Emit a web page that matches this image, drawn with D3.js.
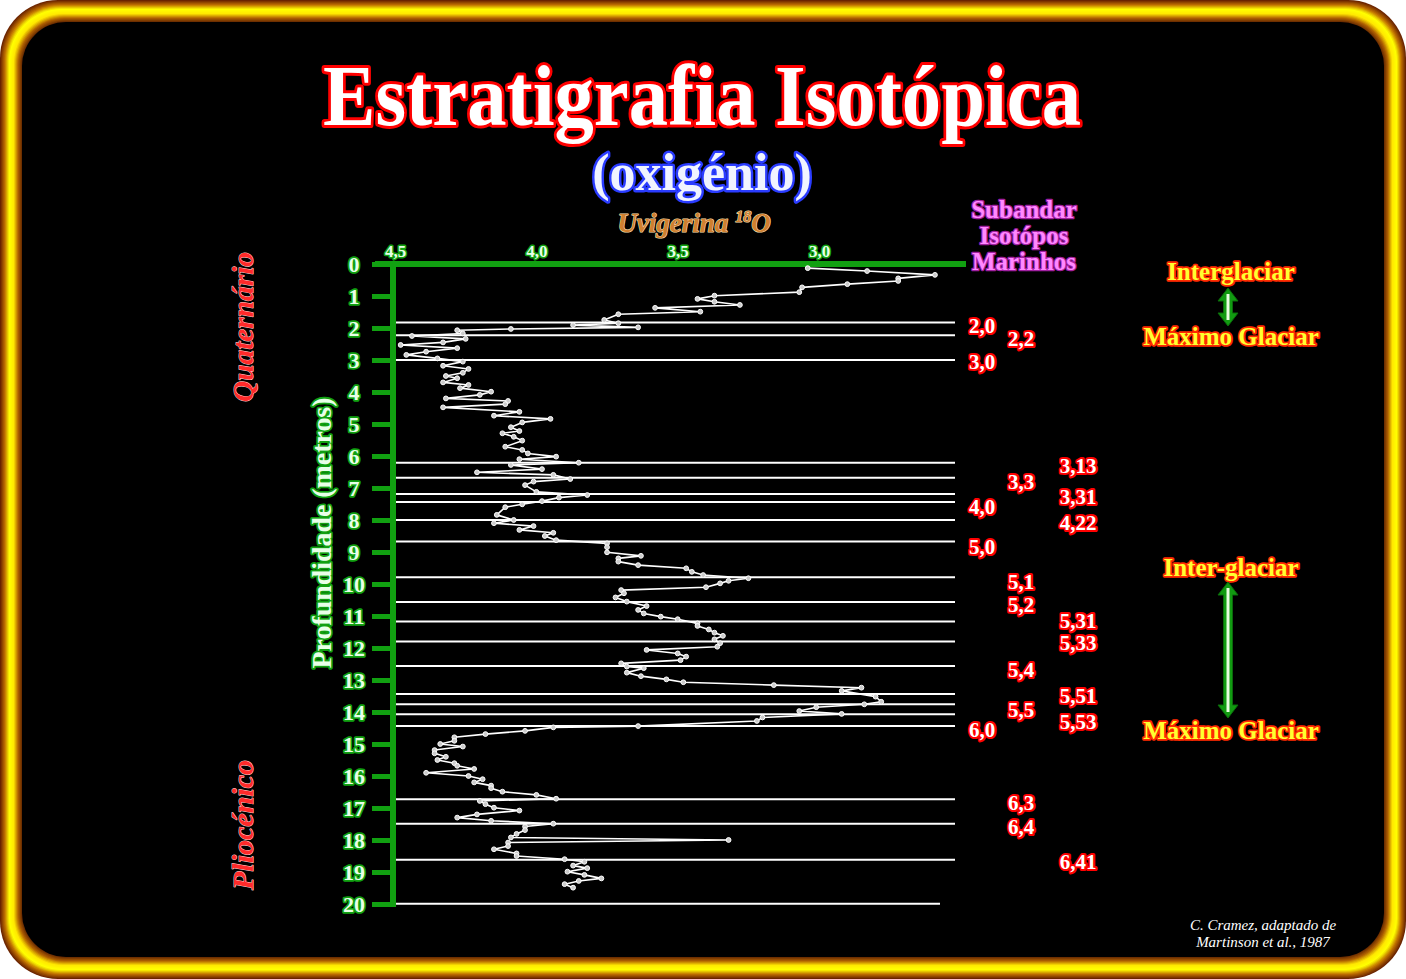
<!DOCTYPE html>
<html><head><meta charset="utf-8">
<script src="https://cdn.jsdelivr.net/npm/d3@7"></script>
<style>html,body{margin:0;padding:0;background:#fff;}svg{display:block;}</style>
</head><body>
<script>
// ---- data ----
const depthTicks = d3.range(0, 21);
const xTickValues = [4.5, 4.0, 3.5, 3.0];
const depths = [0.13,0.22,0.34,0.45,0.53,0.63,0.73,0.88,0.99,1.09,1.18,1.28,1.37,1.49,1.57,1.75,1.85,1.91,1.98,2.03,2.07,2.17,2.25,2.34,2.45,2.53,2.63,2.74,2.84,2.95,3.05,3.18,3.28,3.40,3.50,3.57,3.70,3.78,3.88,3.99,4.09,4.20,4.28,4.38,4.48,4.62,4.74,4.84,4.95,5.10,5.22,5.29,5.40,5.52,5.71,5.81,5.92,6.02,6.10,6.21,6.28,6.41,6.51,6.59,6.72,6.80,6.91,7.12,7.22,7.30,7.41,7.51,7.60,7.84,8.00,8.10,8.19,8.31,8.40,8.50,8.63,8.73,8.85,9.01,9.12,9.20,9.30,9.41,9.51,9.62,9.72,9.82,9.90,9.98,10.10,10.19,10.29,10.42,10.55,10.69,10.81,10.92,11.02,11.10,11.23,11.31,11.42,11.52,11.62,11.73,11.85,11.96,12.06,12.17,12.27,12.38,12.48,12.58,12.63,12.77,12.88,12.98,13.07,13.16,13.24,13.34,13.52,13.68,13.76,13.85,13.97,14.06,14.17,14.28,14.44,14.48,14.59,14.69,14.79,14.90,15.00,15.08,15.19,15.29,15.40,15.50,15.60,15.68,15.78,15.90,16.00,16.10,16.20,16.30,16.38,16.49,16.59,16.71,16.78,16.88,16.99,17.08,17.20,17.30,17.40,17.49,17.58,17.69,17.81,17.92,18.00,18.08,18.19,18.29,18.42,18.50,18.60,18.68,18.80,18.88,18.99,19.09,19.20,19.28,19.38,19.49];
const d18O = [3.04,2.83,2.59,2.72,2.72,2.90,3.06,3.07,3.37,3.43,3.37,3.28,3.58,3.42,3.71,3.76,3.71,3.87,3.64,4.09,4.28,4.26,4.44,4.25,4.33,4.48,4.28,4.39,4.46,4.35,4.26,4.33,4.24,4.26,4.32,4.28,4.33,4.24,4.27,4.16,4.20,4.32,4.10,4.11,4.33,4.06,4.15,3.95,4.05,4.09,4.06,4.12,4.08,4.05,4.11,4.05,4.03,3.93,4.06,3.85,4.09,3.98,4.21,3.94,3.88,4.01,4.04,4.00,3.82,3.92,3.98,4.05,4.11,4.14,4.08,4.15,4.01,4.06,3.94,3.97,3.93,3.75,3.75,3.75,3.63,3.71,3.71,3.64,3.47,3.45,3.41,3.25,3.32,3.35,3.40,3.70,3.69,3.72,3.68,3.61,3.64,3.62,3.56,3.50,3.43,3.43,3.39,3.37,3.34,3.37,3.35,3.36,3.61,3.50,3.47,3.49,3.70,3.68,3.62,3.68,3.63,3.54,3.48,3.16,2.85,2.92,2.80,2.78,2.84,3.01,3.07,2.92,3.20,3.22,3.64,3.94,4.04,4.18,4.29,4.29,4.34,4.26,4.36,4.36,4.32,4.35,4.29,4.28,4.22,4.39,4.24,4.19,4.22,4.16,4.16,4.12,4.00,3.93,4.20,4.18,4.15,4.06,4.21,4.28,4.16,3.94,4.04,4.04,4.07,4.09,3.32,4.10,4.10,4.15,4.07,4.07,3.90,3.83,3.87,3.82,3.89,3.83,3.77,3.85,3.90,3.87];
const boundaryDepths = [1.83,2.23,3.0,6.21,6.68,7.19,7.44,8.0,8.67,9.79,10.56,11.17,11.80,12.56,13.44,13.76,14.07,14.44,16.73,17.49,18.62,19.99];
const stageLabels = ["2,0","2,2","3,0","3,13","3,3","3,31","4,0","4,22","5,0","5,1","5,2","5,31","5,33","5,4","5,51","5,5","5,53","6,0","6,3","6,4","6,41"];
const stageLabelDepths = [1.95,2.35,3.05,6.3,6.82,7.27,7.6,8.1,8.85,9.95,10.65,11.15,11.85,12.7,13.5,13.95,14.3,14.55,16.85,17.6,18.7];
const stageLabelCol = [0,1,0,2,1,2,0,2,0,1,1,2,2,1,2,1,2,0,1,1,2];

const W = 1406, H = 979;
const svg = d3.select("body").append("svg").attr("width", W).attr("height", H);

// ---- frame ----
const band = 22;
const bandColor = d3.scaleLinear().domain([0, 0.2, 0.4, 0.6, 0.8, 1])
  .range(["#6a2400", "#c07000", "#ffff00", "#ffe800", "#b06000", "#5a2000"]);
for (let i = 0; i <= band; i++) {
  svg.append("rect").attr("x", i).attr("y", i).attr("width", W - 2 * i).attr("height", H - 2 * i)
    .attr("rx", 58 - i * 0.6).attr("fill", bandColor(i / band));
}
svg.append("rect").attr("x", band).attr("y", band).attr("width", W - 2 * band).attr("height", H - 2 * band)
  .attr("rx", 44).attr("fill", "#000");

const serif = "'Liberation Serif', 'Times New Roman', serif";

function glowText(g, txt, o) {
  const t = g.append("text").text(txt)
    .attr("x", o.x).attr("y", o.y)
    .attr("text-anchor", o.anchor || "middle")
    .attr("font-family", serif).attr("font-weight", "bold")
    .attr("font-style", o.italic ? "italic" : "normal")
    .attr("font-size", o.size)
    .attr("fill", o.fill).attr("stroke", o.stroke).attr("stroke-width", o.sw)
    .attr("stroke-linejoin", "round").attr("paint-order", "stroke");
  if (o.tl) t.attr("textLength", o.tl).attr("lengthAdjust", "spacingAndGlyphs");
  if (o.rotate) t.attr("transform", `rotate(${o.rotate},${o.x},${o.y})`);
  return t;
}

// ---- title ----
glowText(svg, "Estratigrafia Isotópica", {x: 702, y: 125, size: 86, fill: "#fff", stroke: "#ff0000", sw: 6, tl: 758});
glowText(svg, "(oxigénio)", {x: 702, y: 190, size: 52, fill: "#f0f4ff", stroke: "#2a3cff", sw: 5});
const uv = glowText(svg, "Uvigerina ", {x: 694, y: 232, size: 27, fill: "#d08030", stroke: "#ffe0b0", sw: 1.2, italic: true});
uv.append("tspan").text("18").attr("font-size", 16).attr("dy", -10);
uv.append("tspan").text("O").attr("dy", 10);

// ---- scales ----
const x = d3.scaleLinear().domain([4.5, 2.5]).range([395, 960.4]);
const y = d3.scaleLinear().domain([0, 20]).range([264, 904]);

const green = "#11a011";
const lightGreen = "#e8ffe8";

// boundary lines
svg.append("g").selectAll("line").data(boundaryDepths).join("line")
  .attr("x1", 396).attr("x2", (d, i) => i === boundaryDepths.length - 1 ? 940 : 955)
  .attr("y1", d => y(d)).attr("y2", d => y(d))
  .attr("stroke", "#fff").attr("stroke-width", 2);

// left axis
const yAxis = d3.axisLeft(y).tickValues(depthTicks).tickSize(21).tickFormat(d3.format("d"));
const ga = svg.append("g").attr("transform", "translate(393,0)").call(yAxis);
ga.select(".domain").attr("stroke", green).attr("stroke-width", 6).attr("d", `M0,${y(0) - 3}V${y(20) + 3}`);
ga.selectAll(".tick line").attr("stroke", green).attr("stroke-width", 5);
ga.selectAll(".tick text").attr("font-family", serif).attr("font-weight", "bold").attr("font-size", 22)
  .attr("fill", lightGreen).attr("stroke", green).attr("stroke-width", 3.5).attr("paint-order", "stroke")
  .attr("stroke-linejoin", "round").attr("x", -39).attr("text-anchor", "middle").attr("dy", "0.35em");

// top axis
svg.append("line").attr("x1", 375).attr("x2", 966).attr("y1", y(0)).attr("y2", y(0))
  .attr("stroke", green).attr("stroke-width", 6);
const xAxis = d3.axisTop(x).tickValues(xTickValues).tickSize(0).tickPadding(4).tickFormat(d => d3.format(".1f")(d).replace(".", ","));
const gx = svg.append("g").attr("transform", `translate(0,${y(0) - 3})`).call(xAxis);
gx.select(".domain").remove();
gx.selectAll(".tick text").attr("font-family", serif).attr("font-weight", "bold").attr("font-size", 17)
  .attr("fill", lightGreen).attr("stroke", green).attr("stroke-width", 3).attr("paint-order", "stroke")
  .attr("stroke-linejoin", "round");

// curve
const pts = depths.map((d, i) => ({d, v: d18O[i]}));
svg.append("path").datum(pts)
  .attr("d", d3.line().x(p => x(p.v)).y(p => y(p.d)))
  .attr("fill", "none").attr("stroke", "#fff").attr("stroke-width", 1.6).attr("stroke-linejoin", "round");
svg.append("g").selectAll("circle").data(pts).join("circle")
  .attr("cx", p => x(p.v)).attr("cy", p => y(p.d)).attr("r", 2.4)
  .attr("fill", "#ccc").attr("stroke", "#fff").attr("stroke-width", 1);

// axis title
glowText(svg, "Profundidade (metros)", {x: 331, y: 533, size: 27, fill: lightGreen, stroke: green, sw: 3.5, rotate: -90, tl: 271});

// epochs
glowText(svg, "Quaternário", {x: 253, y: 327, size: 30, fill: "#ff2a2a", stroke: "#ffd0d0", sw: 1, italic: true, rotate: -90, tl: 150});
glowText(svg, "Pliocénico", {x: 253, y: 825, size: 30, fill: "#ff2a2a", stroke: "#ffd0d0", sw: 1, italic: true, rotate: -90, tl: 130});

// subandar header
["Subandar", "Isotópos", "Marinhos"].forEach((t, i) =>
  glowText(svg, t, {x: 1024, y: 218 + i * 26, size: 25, fill: "#ff88ff", stroke: "#a020a0", sw: 2.5}));

// stage labels
const colX = [982, 1021, 1078];
svg.append("g").selectAll("text").data(stageLabels).join("text")
  .text(d => d)
  .attr("x", (d, i) => colX[stageLabelCol[i]])
  .attr("y", (d, i) => y(stageLabelDepths[i]) + 7)
  .attr("text-anchor", "middle").attr("font-family", serif).attr("font-weight", "bold").attr("font-size", 21)
  .attr("fill", "#fff").attr("stroke", "#ff0000").attr("stroke-width", 4).attr("paint-order", "stroke")
  .attr("stroke-linejoin", "round");

// glacial labels
const yellowOpt = {size: 25, fill: "#ffff30", stroke: "#ff2a00", sw: 3.5};
glowText(svg, "Interglaciar", Object.assign({x: 1231, y: 280}, yellowOpt));
glowText(svg, "Máximo Glaciar", Object.assign({x: 1231, y: 345}, yellowOpt));
glowText(svg, "Inter-glaciar", Object.assign({x: 1231, y: 576}, yellowOpt));
glowText(svg, "Máximo Glaciar", Object.assign({x: 1231, y: 739}, yellowOpt));

function dblArrow(cx, y1, y2) {
  const hw = 10, hh = 13, sw = 4.5;
  const p = `M${cx},${y1} L${cx + hw},${y1 + hh} L${cx + sw},${y1 + hh} L${cx + sw},${y2 - hh} L${cx + hw},${y2 - hh} L${cx},${y2} L${cx - hw},${y2 - hh} L${cx - sw},${y2 - hh} L${cx - sw},${y1 + hh} L${cx - hw},${y1 + hh} Z`;
  svg.append("path").attr("d", p).attr("fill", "#119a11").attr("stroke", "#0a6a0a").attr("stroke-width", 1);
  svg.append("line").attr("x1", cx).attr("x2", cx).attr("y1", y1 + 6).attr("y2", y2 - 6)
    .attr("stroke", "#e8ffe0").attr("stroke-width", 3);
}
dblArrow(1228, 288, 326);
dblArrow(1228, 582, 718);

// credit
[["C. Cramez, adaptado de", 930], ["Martinson et al., 1987", 947]].forEach(([t, yy]) =>
  svg.append("text").text(t).attr("x", 1263).attr("y", yy).attr("text-anchor", "middle")
    .attr("font-family", serif).attr("font-style", "italic").attr("font-size", 15).attr("fill", "#fff"));
</script>
</body></html>
